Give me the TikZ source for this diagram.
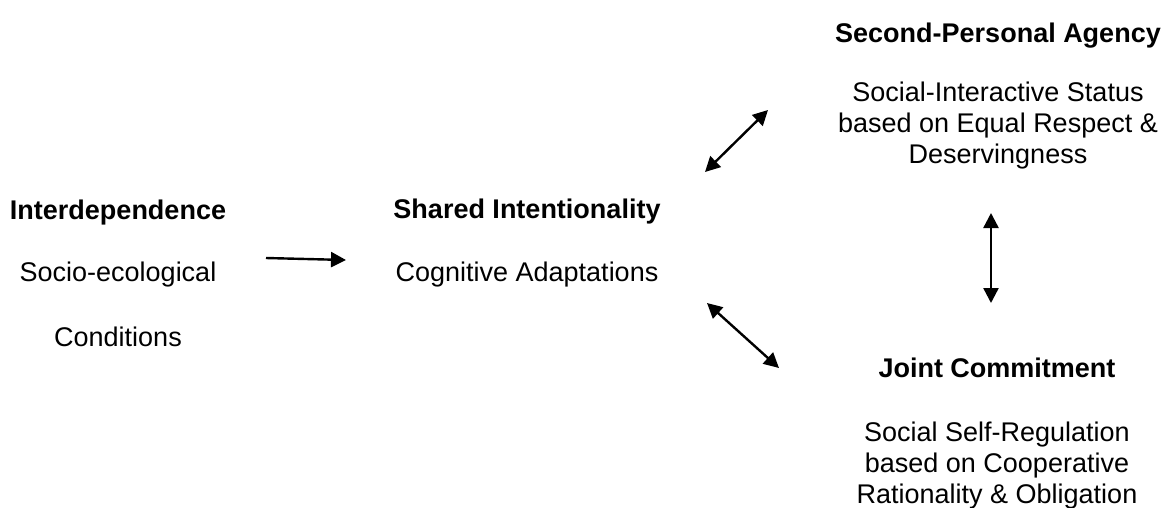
\documentclass[tikz,border=0pt]{standalone}
\usepackage{fontspec}
\setmainfont{Liberation Sans}
\usepackage{tikz}
\usetikzlibrary{arrows.meta,positioning}

\begin{document}
\begin{tikzpicture}[
  x=1pt,y=-1pt,
  txt/.style={font=\fontsize{27}{31}\selectfont,align=center,anchor=base,
              inner sep=0pt},
  head/.style={txt,font=\fontsize{27}{31}\selectfont\bfseries},
  link/.style={{Triangle[length=15pt,width=15pt]}-{Triangle[length=15pt,width=15pt]},
               line width=2.4pt},
  oneway/.style={-{Triangle[length=15pt,width=15pt]},line width=2.4pt}
]
\useasboundingbox (0,0) rectangle (1168,507);

% left block
\node[head] (inter) at (118,219) {Interdependence};
\node[txt]  (socio) at (118,281) {Socio-ecological};
\node[txt]  (cond)  at (118,346) {Conditions};

% middle block
\node[head] (shared) at (527,218) {Shared Intentionality};
\node[txt]  (cog)    at (527,281) {Cognitive Adaptations};

% upper right block (base = last line)
\node[head] (agency) at (998,42) {Second-Personal Agency};
\node[txt]  (status) at (998,163)
  {Social-Interactive Status\\based on Equal Respect \&\\Deservingness};

% lower right block
\node[head] (joint) at (997,377) {Joint Commitment};
\node[txt]  (selfreg) at (997,503)
  {Social Self-Regulation\\based on Cooperative\\Rationality \& Obligation};

% arrow ends
\coordinate (a1) at (266,258);
\coordinate (b1) at (346,260);
\coordinate (a2) at (705,172);
\coordinate (b2) at (768,110);
\coordinate (a3) at (707,303);
\coordinate (b3) at (779,368);
\coordinate (a4) at (991,213);
\coordinate (b4) at (991,303);

\draw[oneway] (a1) -- (b1);
\draw[link] (a2) -- (b2);
\draw[link] (a3) -- (b3);
\draw[link] (a4) -- (b4);
\end{tikzpicture}
\end{document}
